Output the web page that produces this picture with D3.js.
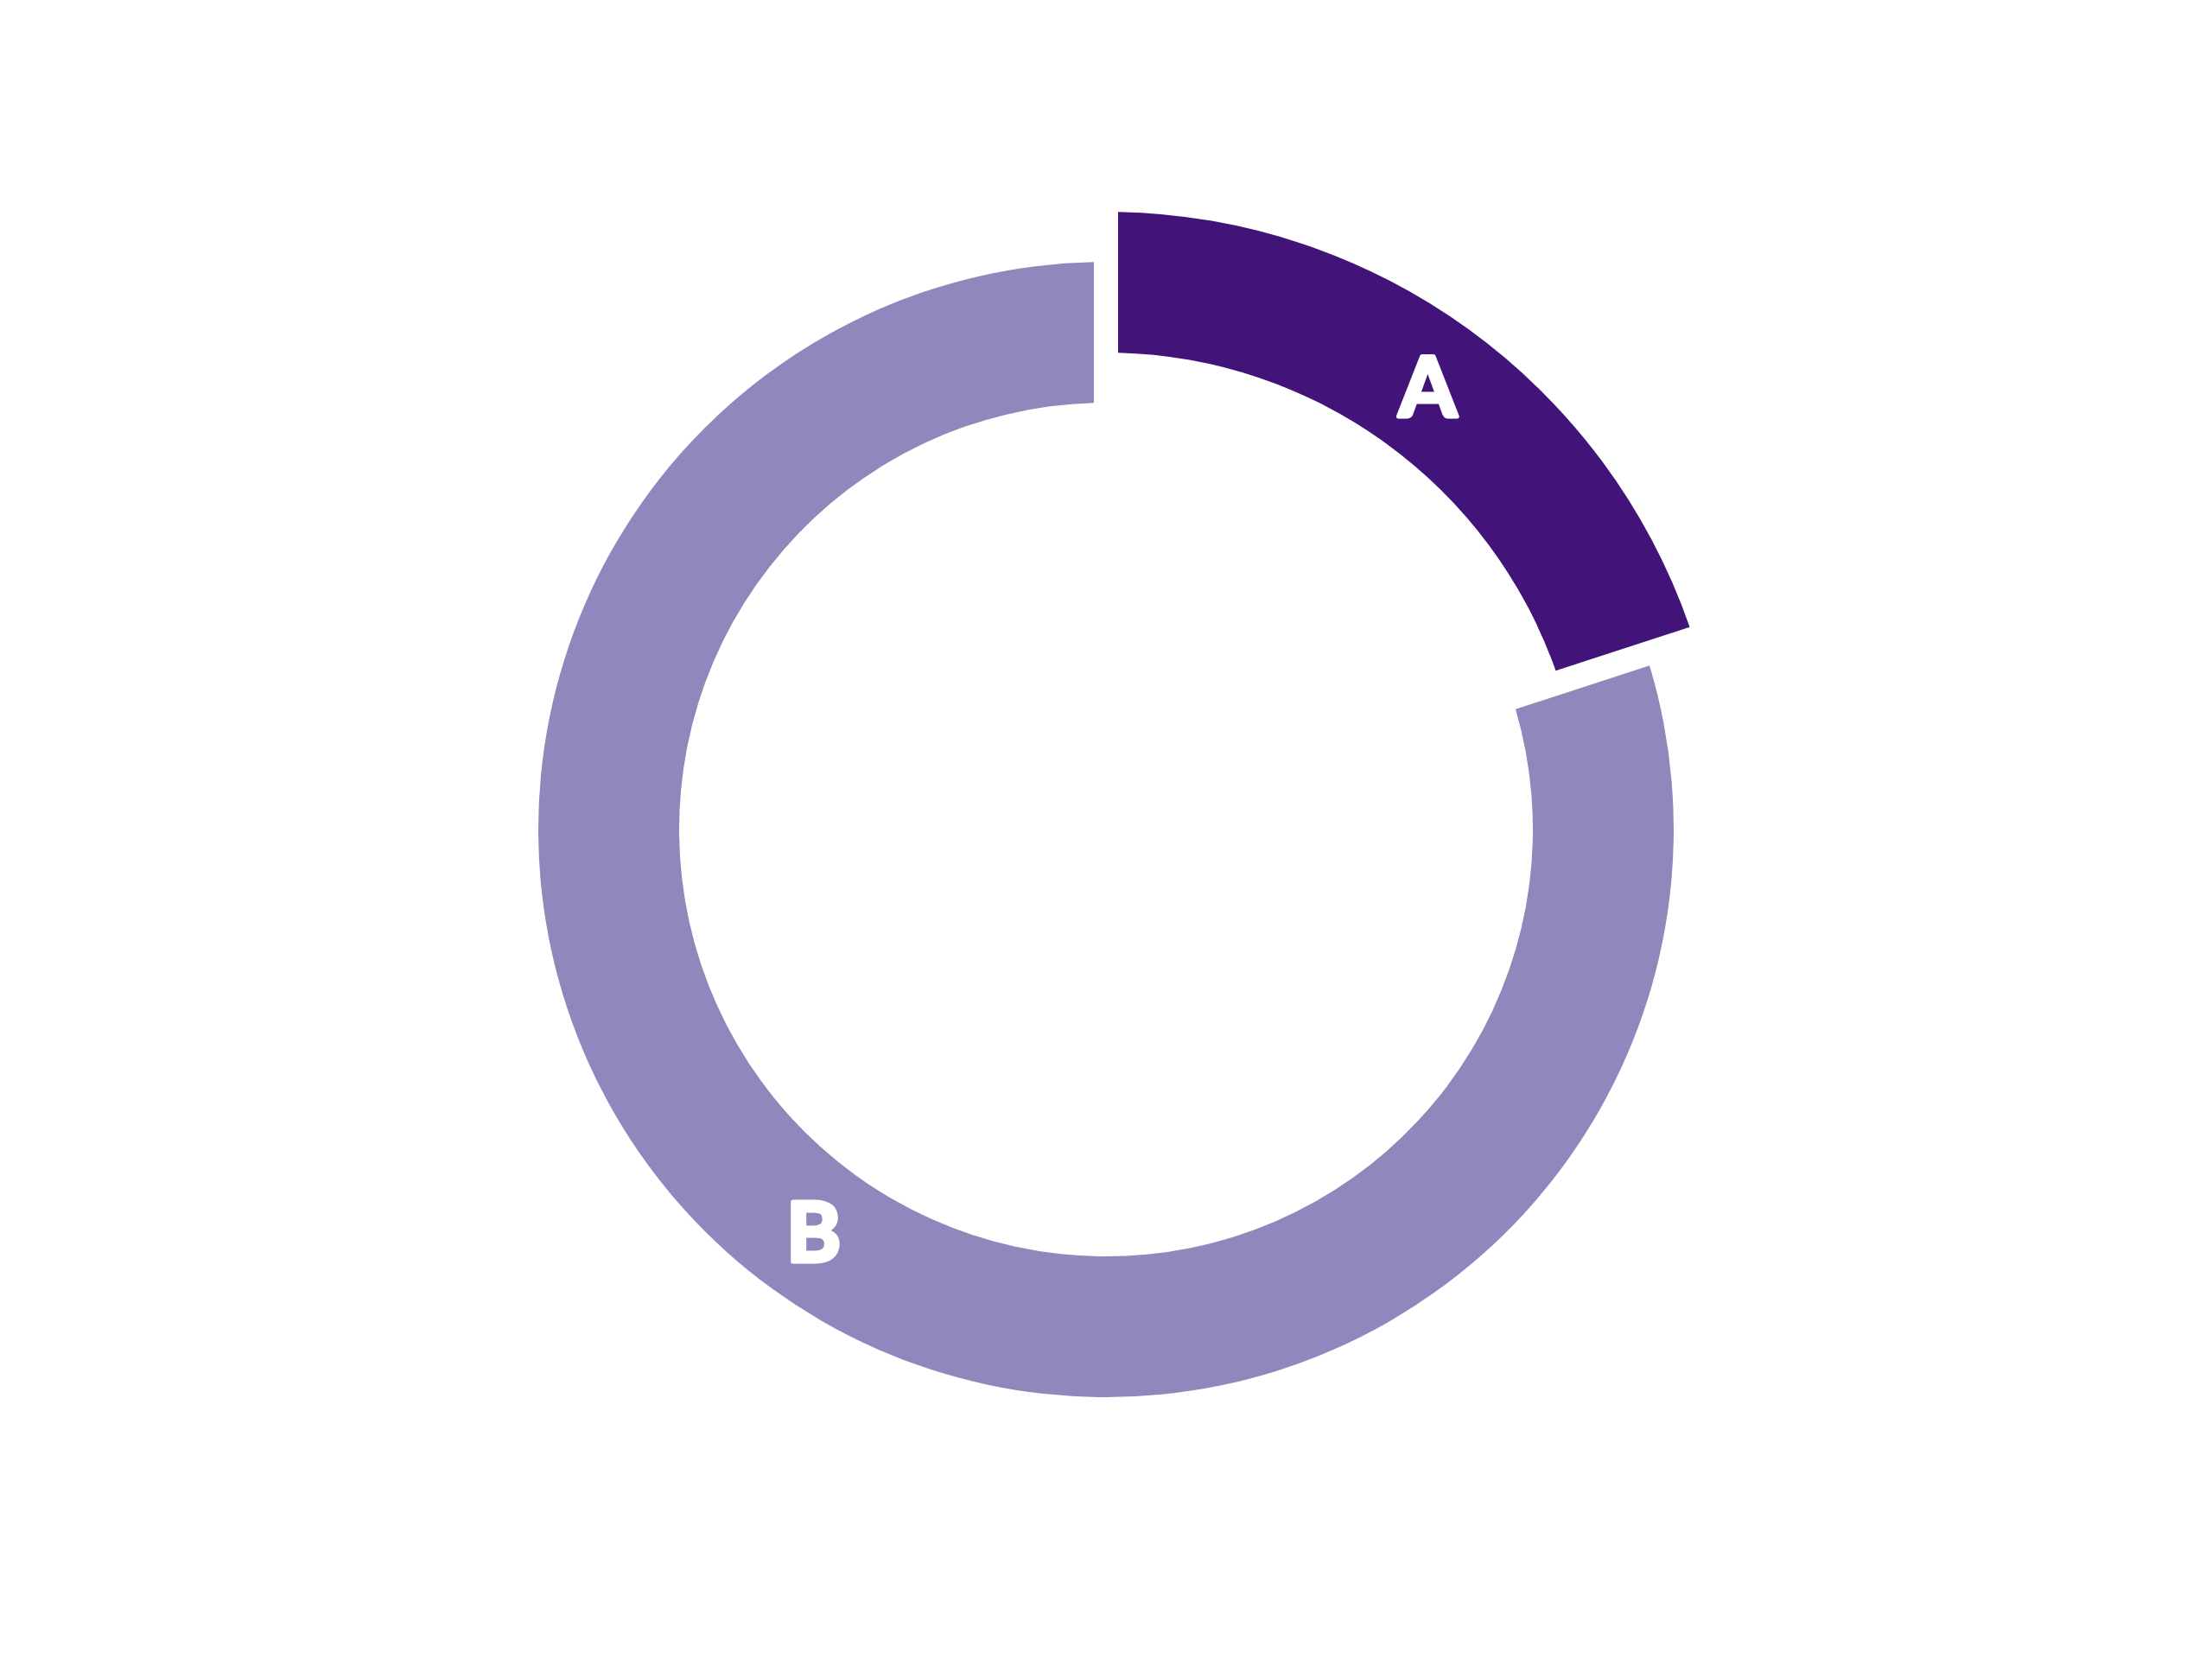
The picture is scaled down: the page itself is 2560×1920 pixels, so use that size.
<!DOCTYPE html>
<html>
<head>
<meta charset="utf-8">
<script src="https://cdn.jsdelivr.net/npm/d3@7"></script>
<style>
  html, body { margin: 0; padding: 0; background: #ffffff; }
  svg { display: block; }
</style>
</head>
<body>
<svg id="chart" width="2560" height="1920"></svg>
<script>
const categories = ["A", "B"];
const values = [20, 80];
const colors = ["#421378", "#8e88bc"];
const offsets = [58, 0];

const W = 2560, H = 1920;
const cx = 1280, cy = 960;
const innerR = 494, outerR = 657;
const gap = 28;

const data = categories.map((c, i) => ({ cat: c, value: values[i], color: colors[i], offset: offsets[i] }));

const pie = d3.pie().value(d => d.value).sort(null).startAngle(0).endAngle(2 * Math.PI);
const arcs = pie(data);

const svg = d3.select("#chart");
const g = svg.append("g").attr("transform", `translate(${cx},${cy})`);

const arcGen = d => d3.arc()
  .innerRadius(innerR + d.data.offset)
  .outerRadius(outerR + d.data.offset)
  .padRadius(outerR)
  .padAngle(gap / outerR);

g.selectAll("path.slice")
  .data(arcs)
  .join("path")
  .attr("class", "slice")
  .attr("d", d => arcGen(d)(d))
  .attr("fill", d => d.data.color);

g.selectAll("text.label")
  .data(arcs)
  .join("text")
  .attr("class", "label")
  .attr("transform", d => {
    const [x, y] = arcGen(d).centroid(d);
    return `translate(${x},${y})`;
  })
  .attr("text-anchor", "middle")
  .attr("dy", "0.36em")
  .attr("font-family", "Lato, sans-serif")
  .attr("font-weight", 700)
  .attr("font-size", 96)
  .attr("fill", "#ffffff")
  .attr("stroke", "#ffffff")
  .attr("stroke-width", 5)
  .attr("stroke-linejoin", "round")
  .text(d => d.data.cat);
</script>
</body>
</html>
